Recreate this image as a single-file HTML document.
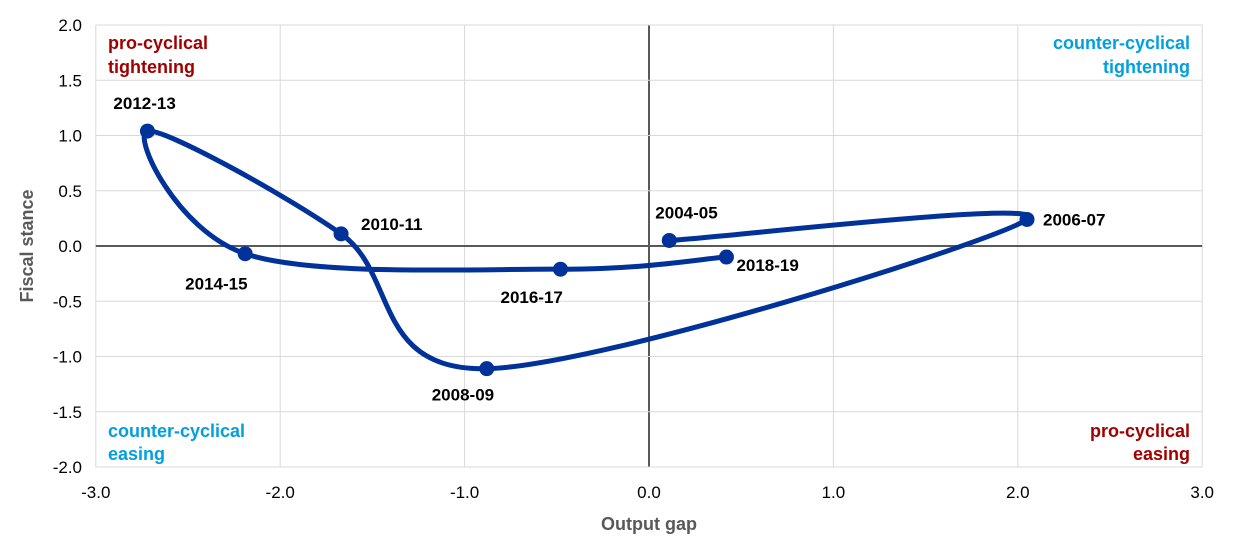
<!DOCTYPE html>
<html><head><meta charset="utf-8"><style>
body{margin:0;background:#fff}
svg text{font-family:"Liberation Sans",Arial,sans-serif}
</style></head><body>
<svg id="c" width="1240" height="540" viewBox="0 0 1240 540" xmlns="http://www.w3.org/2000/svg"></svg>
<script>
const labels=["2004-05","2006-07","2008-09","2010-11","2012-13","2014-15","2016-17","2018-19"];
const gapValues=[0.11,2.05,-0.88,-1.67,-2.72,-2.19,-0.48,0.42];
const stanceValues=[0.05,0.24,-1.11,0.11,1.04,-0.07,-0.21,-0.10];
const xTicks=[-3,-2,-1,0,1,2,3];
const yTicks=[2,1.5,1,0.5,0,-0.5,-1,-1.5,-2];
const labelOffsets=[[-14,-22],[16,6],[-55,32],[20,-4],[-34,-22],[-60,36],[-60,34],[10,14]];
const X=v=>649+v*184.4, Y=v=>246-v*110.5;
const svg=document.getElementById('c'), NS='http://www.w3.org/2000/svg';
function mk(t,a,p){const e=document.createElementNS(NS,t);for(const k in a)e.setAttribute(k,a[k]);(p||svg).appendChild(e);return e;}
xTicks.forEach(t=>{const l=mk('line',{x1:X(t),x2:X(t),y1:Y(2),y2:Y(-2),stroke:t===0?'#595959':'#d9d9d9','stroke-width':t===0?2:1});

const tx=mk('text',{x:X(t),y:498,'text-anchor':'middle','font-size':17,fill:'#000'});tx.textContent=t.toFixed(1);
});
yTicks.forEach(t=>{const l=mk('line',{x1:X(-3),x2:X(3),y1:Y(t),y2:Y(t),stroke:t===0?'#595959':'#d9d9d9','stroke-width':t===0?2:1});

const tx=mk('text',{x:82,y:Y(t)+6,'text-anchor':'end','font-size':17,fill:'#000'});tx.textContent=t.toFixed(1);
});
// smooth path (Catmull-Rom)
const P=gapValues.map((v,i)=>[X(v),Y(stanceValues[i])]);
let d='M'+P[0][0]+','+P[0][1];
for(let i=0;i<P.length-1;i++){const p0=P[i-1]||P[i],p1=P[i],p2=P[i+1],p3=P[i+2]||P[i+1];
const c1=[p1[0]+(p2[0]-p0[0])/6,p1[1]+(p2[1]-p0[1])/6],c2=[p2[0]-(p3[0]-p1[0])/6,p2[1]-(p3[1]-p1[1])/6];
d+=` C${c1[0]},${c1[1]} ${c2[0]},${c2[1]} ${p2[0]},${p2[1]}`;}
const path=mk('path',{d:d,fill:'none',stroke:'#003299','stroke-width':5,'stroke-linecap':'round'});

P.forEach((p,i)=>{const c=mk('circle',{cx:p[0],cy:p[1],r:7.5,fill:'#003299'});

const t=mk('text',{x:p[0]+labelOffsets[i][0],y:p[1]+labelOffsets[i][1],'font-size':17,'font-weight':'bold',fill:'#000'});t.textContent=labels[i];
});
function txt(s,x,y,a,col,name,extra){const t=mk('text',Object.assign({x:x,y:y,'text-anchor':a,'font-size':18,'font-weight':'bold',fill:col},extra||{}));t.textContent=s;
}
txt('pro-cyclical',108,49,'start','#a00000','quadrant-label');txt('tightening',108,73,'start','#a00000','quadrant-label');
txt('counter-cyclical',1190,49,'end','#00a0e0','quadrant-label');txt('tightening',1190,73,'end','#00a0e0','quadrant-label');
txt('counter-cyclical',108,437,'start','#00a0e0','quadrant-label');txt('easing',108,460,'start','#00a0e0','quadrant-label');
txt('pro-cyclical',1190,437,'end','#a00000','quadrant-label');txt('easing',1190,460,'end','#a00000','quadrant-label');
txt('Output gap',649,530,'middle','#595959','x-axis-title');
txt('Fiscal stance',33,246,'middle','#595959','y-axis-title',{transform:'rotate(-90 33 246)'});
</script>
</body></html>
